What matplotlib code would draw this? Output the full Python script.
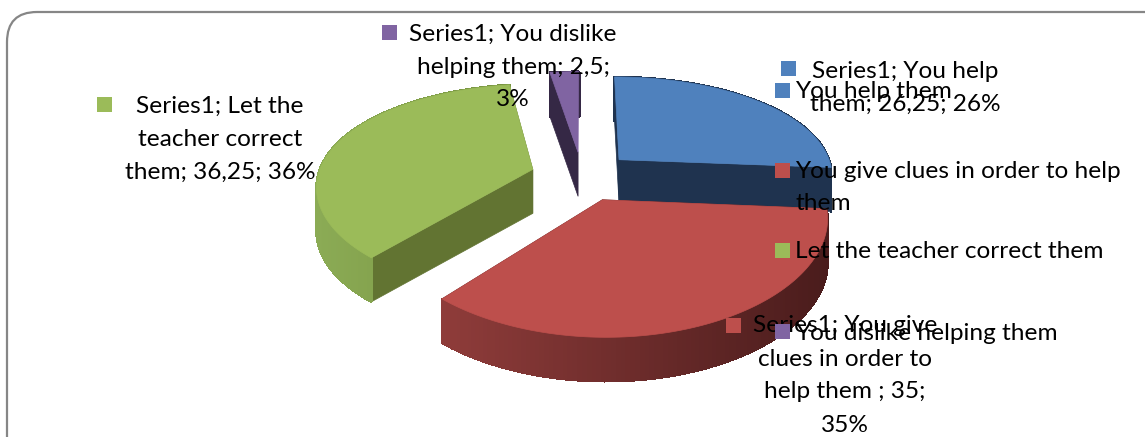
import matplotlib
matplotlib.use("Agg")
import matplotlib.pyplot as plt
import numpy as np
from matplotlib.collections import PolyCollection
from matplotlib.patches import FancyBboxPatch, Polygon, Rectangle

# survey answers, slices run clockwise from 12 o'clock
categories = ["You help them", "You give clues in order to help them",
              "Let the teacher correct them", "You dislike helping them"]
values = [26.25, 35, 36.25, 2.5]

top_colors = ["#4f81bd", "#bd4f4c", "#9bbb59", "#8064a2"]
cut_colors = ["#1f334f", "#4a1c1c", "#627432", "#352845"]
rim_left = ["#1f334f", "#8f3c3a", "#8bab55", "#352845"]
rim_right = ["#1f334f", "#4a1c1c", "#76923f", "#352845"]

# data labels, broken into lines the way they wrap on the chart
label_lines = [["Series1; You help", "them; 26,25; 26%"],
               ["Series1; You give", "clues in order to", "help them ; 35;", "35%"],
               ["Series1; Let the", "teacher correct", "them; 36,25; 36%"],
               ["Series1; You dislike", "helping them; 2,5;", "3%"]]
label_x = [905, 845, 220, 513]
label_y = [71, 326, 106, 34]
key_x = [781, 726, 97, 382]
key_y = [61, 318, 97, 25]

legend_lines = [["You help them"], ["You give clues in order to help", "them"],
                ["Let the teacher correct them"], ["You dislike helping them"]]
legend_y = [92, 172, 252, 333]

# pie geometry
cx, cy = 582, 176
rad_x, rad_y = 215, 103
persp = 0.18
explode = 0.24
depth = 44
font_size = 17.6


def project(px, py):
    # py > 0 is towards the back of the pie
    s = 1 / (1 + persp * py)
    return cx + px * rad_x * s ** 0.8, cy - py * rad_y * s


def mix(c1, c2, t):
    a = np.array(matplotlib.colors.to_rgb(c1))
    b = np.array(matplotlib.colors.to_rgb(c2))
    return tuple(a + (b - a) * t)


fig = plt.figure(figsize=(11.45, 4.37), dpi=100)
ax = fig.add_axes([0, 0, 1, 1])
ax.set_xlim(0, 1145)
ax.set_ylim(437, 0)
ax.axis("off")

# rounded chart frame running off the right and bottom
ax.add_patch(FancyBboxPatch((37, 42), 1200, 480, boxstyle="round,pad=30,rounding_size=30",
                            fc="white", ec="#868686", lw=1.6, zorder=0))

fractions = np.array(values) / np.sum(values)
edges = np.concatenate([[0], np.cumsum(fractions)]) * 2 * np.pi

# back slices first, red sits in front of the others
for pos, i in enumerate([0, 3, 2, 1]):
    z = 2 + pos
    mid = (edges[i] + edges[i + 1]) / 2
    ox, oy = explode * np.sin(mid), explode * np.cos(mid)
    angles = np.linspace(edges[i], edges[i + 1], 120)
    arc_x, arc_y = project(ox + np.sin(angles), oy + np.cos(angles))
    apex_x, apex_y = project(ox, oy)

    # cut faces, the purple one only shows its left side
    faces = [0] if i == 3 else [0, -1]
    for k in faces:
        ax.add_patch(Polygon([(apex_x, apex_y), (arc_x[k], arc_y[k]),
                              (arc_x[k], arc_y[k] + depth), (apex_x, apex_y + depth)],
                             fc=cut_colors[i], ec=cut_colors[i], lw=0.5, zorder=z))

    # outer wall with a left to right shade
    quads = []
    shades = []
    for j in range(len(angles) - 1):
        quads.append([(arc_x[j], arc_y[j]), (arc_x[j + 1], arc_y[j + 1]),
                      (arc_x[j + 1], arc_y[j + 1] + depth), (arc_x[j], arc_y[j] + depth)])
        t = (arc_x[j] - arc_x.min()) / (arc_x.max() - arc_x.min())
        shades.append(mix(rim_left[i], rim_right[i], t))
    ax.add_collection(PolyCollection(quads, facecolors=shades, edgecolors=shades,
                                     linewidths=1, antialiaseds=False, zorder=z + 0.1))

    top = np.column_stack([np.r_[apex_x, arc_x], np.r_[apex_y, arc_y]])
    ax.add_patch(Polygon(top, fc=top_colors[i], ec=top_colors[i], lw=0.5, zorder=z + 0.2))

text_kw = dict(family="Lato", fontsize=font_size, color="black", va="center", zorder=20)
key_size = 15

for i in range(len(categories)):
    ax.add_patch(Rectangle((key_x[i], key_y[i]), key_size, key_size,
                           fc=top_colors[i], ec="none", zorder=20))
    for n, line in enumerate(label_lines[i]):
        ax.text(label_x[i], label_y[i] + n * 33, line, ha="center", **text_kw)

    ax.add_patch(Rectangle((775, legend_y[i] - 9), key_size, key_size,
                           fc=top_colors[i], ec="none", zorder=21))
    for n, line in enumerate(legend_lines[i]):
        ax.text(795, legend_y[i] + n * 32, line, ha="left", **text_kw)

fig.savefig("out.png", dpi=100)
plt.close()
